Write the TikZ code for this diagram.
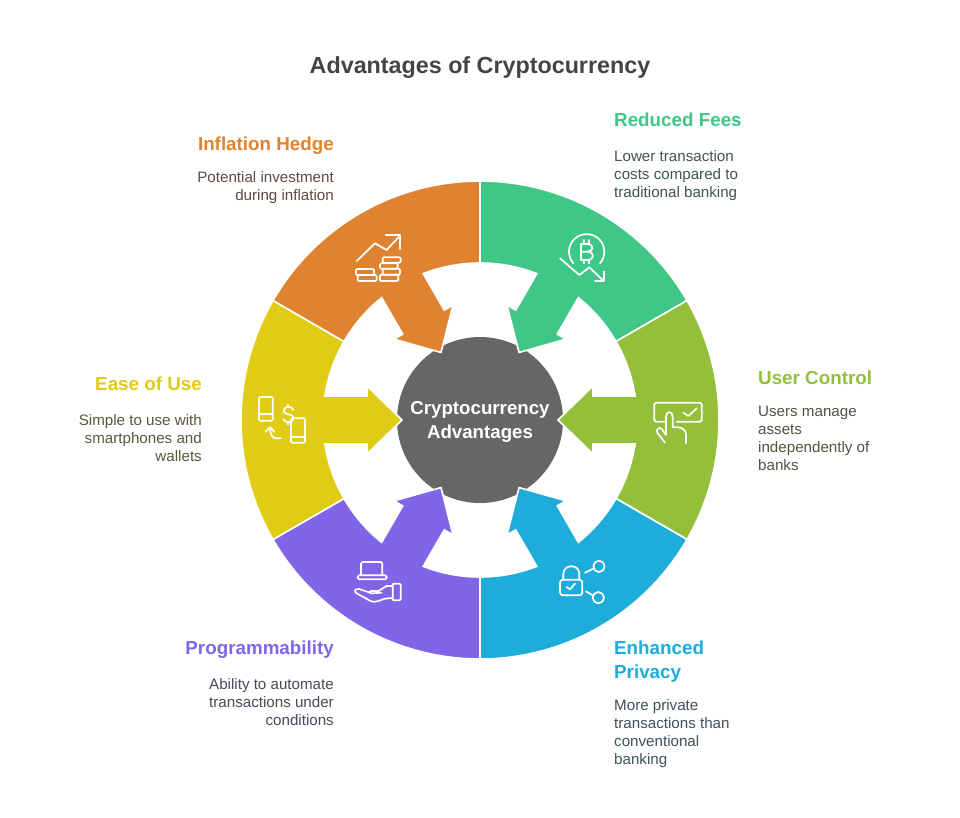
\documentclass[tikz,border=0pt]{standalone}
\usepackage{fontspec}
\setmainfont{Liberation Sans}
\definecolor{cgreen}{HTML}{3EC787}
\definecolor{colive}{HTML}{93BF3A}
\definecolor{cblue}{HTML}{1EACDB}
\definecolor{cpurple}{HTML}{8065E9}
\definecolor{cyellow}{HTML}{E0CB15}
\definecolor{corange}{HTML}{DF8330}
\definecolor{cgray}{HTML}{666666}
\definecolor{ctitle}{HTML}{444444}
\tikzset{
  segpath/.style={draw=white,line width=1.6pt,line join=miter,fill=#1},
  icon/.style={draw=white,line width=1.7pt,line cap=round,line join=round},
  head/.style={inner sep=0pt,font=\bfseries\fontsize{18.8}{24}\selectfont,text=#1},
  body/.style={inner sep=0pt,font=\fontsize{15.15}{18}\selectfont,text=#1!14!ctitle},
}
\newcommand{\ringseg}[2]{%
  \begin{scope}[shift={(480,420)},rotate=#1]
    \path[segpath=#2] (-30:239) arc[start angle=-30,end angle=30,radius=239]
      -- (30:157) arc[start angle=30,end angle=8.79,radius=157]
      -- (113,24) -- (113,34) -- (78,0) -- (113,-34) -- (113,-24)
      -- (-8.79:157) arc[start angle=-8.79,end angle=-30,radius=157] -- cycle;
  \end{scope}}
\begin{document}
\begin{tikzpicture}[x=1pt,y=-1pt]
\useasboundingbox[fill=white] (0,0) rectangle (960,817);
\node[circle,fill=cgray,minimum size=166pt,inner sep=0pt] (hub) at (480,420) {};
\ringseg{60}{cgreen}
\ringseg{0}{colive}
\ringseg{-60}{cblue}
\ringseg{-120}{cpurple}
\ringseg{180}{cyellow}
\ringseg{120}{corange}
\node[inner sep=0pt,align=center,text=white,font=\bfseries\fontsize{18.7}{24}\selectfont] (hubtext) at (480,422) {Cryptocurrency\\Advantages};
\node[inner sep=0pt,text=ctitle,font=\bfseries\fontsize{23.3}{30}\selectfont] (title) at (480,68) {Advantages of Cryptocurrency};
% labels
\node[head=cgreen,anchor=north west] (h1) at (614,113) {Reduced Fees};
\node[body=cgreen,anchor=north west,align=left] (b1) at (614,150.5) {Lower transaction\\costs compared to\\traditional banking};
\node[head=colive,anchor=north west] (h2) at (758,371) {User Control};
\node[body=colive,anchor=north west,align=left] (b2) at (758,405.5) {Users manage\\assets\\independently of\\banks};
\node[head=cblue,anchor=north west,align=left] (h3) at (614,641) {Enhanced\\Privacy};
\node[body=cblue,anchor=north west,align=left] (b3) at (614,699.5) {More private\\transactions than\\conventional\\banking};
\node[head=cpurple,anchor=north east] (h4) at (334,641) {Programmability};
\node[body=cpurple,anchor=north east,align=right] (b4) at (334,678.5) {Ability to automate\\transactions under\\conditions};
\node[head=cyellow,anchor=north east] (h5) at (202,377) {Ease of Use};
\node[body=cyellow,anchor=north east,align=right] (b5) at (202,414.5) {Simple to use with\\smartphones and\\wallets};
\node[head=corange,anchor=north east] (h6) at (334,137) {Inflation Hedge};
\node[body=corange,anchor=north east,align=right] (b6) at (334,171.5) {Potential investment\\during inflation};
% bitcoin icon
\begin{scope}[shift={(540,220)},x=0.3333pt,y=-0.3333pt,icon]
  \draw (100,130) arc[start angle=139,end angle=401,radius=53];
  \draw (60,115) -- (118,165) -- (148,142) -- (190,182);
  \draw (192,155) -- (192,182) -- (165,182);
  \draw (123,72) -- (143,72) .. controls (162,72) and (162,95) .. (143,95) -- (123,95);
  \draw (143,95) .. controls (164,95) and (164,120) .. (143,120) -- (123,120) -- (123,72);
  \draw (132,60) -- (132,70) (146,60) -- (146,70) (132,122) -- (132,130) (146,122) -- (146,130);
\end{scope}
% control icon
\begin{scope}[shift={(640,390)},x=0.3333pt,y=-0.3333pt,icon]
  \draw[rounded corners=1.5pt] (75,95) -- (43,95) -- (43,38) -- (185,38) -- (185,95) -- (110,95);
  \draw (130,68) -- (145,78) -- (170,55);
  \draw (75,158) -- (52,128) .. controls (46,118) and (60,108) .. (66,118) -- (78,135) -- (78,80) .. controls (78,62) and (98,62) .. (98,80) -- (98,112) -- (115,112) .. controls (130,114) and (138,122) .. (138,135) -- (138,160);
\end{scope}
% phones icon
\begin{scope}[shift={(245,385)},x=0.3333pt,y=-0.3333pt,icon]
  \draw[rounded corners=1.2pt] (42,36) rectangle (83,107);
  \draw (42,88) -- (83,88);
  \draw[rounded corners=1.2pt] (138,100) rectangle (180,173);
  \draw (138,155) -- (180,155);
  \draw (145,75) .. controls (142,62) and (117,62) .. (116,77) .. controls (116,92) and (146,84) .. (146,100) .. controls (146,115) and (118,114) .. (115,102);
  \draw (130,60) -- (130,65) (130,112) -- (130,118);
  \draw (108,160) -- (95,160) .. controls (82,160) and (75,148) .. (75,128);
  \draw (62,140) -- (75,127) -- (88,140);
\end{scope}
% coins icon
\begin{scope}[shift={(345,225)},x=0.3333pt,y=-0.3333pt,icon]
  \draw (35,108) -- (90,55) -- (125,75) -- (165,32);
  \draw (122,30) -- (165,30) -- (165,72);
  \draw[rounded corners=1.2pt] (33,132) rectangle (87,150);
  \draw[rounded corners=1.2pt] (38,150) rectangle (95,168);
  \draw[rounded corners=1.2pt] (113,97) rectangle (167,113);
  \draw[rounded corners=1.2pt] (105,115) rectangle (158,131);
  \draw[rounded corners=1.2pt] (113,131) rectangle (165,149);
  \draw[rounded corners=1.2pt] (105,149) rectangle (160,168);
\end{scope}
% laptop icon
\begin{scope}[shift={(345,552)},x=0.3333pt,y=-0.3333pt,icon]
  \draw[rounded corners=1.5pt] (48,70) -- (48,30) -- (112,30) -- (112,70);
  \draw[rounded corners=1.5pt] (38,70) rectangle (125,82);
  \draw[rounded corners=1pt] (143,95) rectangle (167,145);
  \draw (143,102) -- (125,102) -- (100,117) -- (78,117) .. controls (70,117) and (70,124) .. (78,124) -- (110,122);
  \draw (75,122) -- (42,111) .. controls (30,110) and (26,118) .. (35,124) -- (75,146) .. controls (85,151) and (92,150) .. (100,147) -- (120,140) -- (143,138);
\end{scope}
% lock icon
\begin{scope}[shift={(550,552)},x=0.3333pt,y=-0.3333pt,icon]
  \draw[rounded corners=3pt] (30,83) rectangle (97,130);
  \draw (40,83) -- (40,66) .. controls (40,35) and (88,35) .. (88,66) -- (88,83);
  \draw (50,105) -- (60,112) -- (75,95);
  \draw (147,43) circle[radius=17];
  \draw (105,62) -- (130,50);
  \draw (145,137) circle[radius=17];
  \draw (108,118) -- (128,130);
\end{scope}
\end{tikzpicture}
\end{document}
